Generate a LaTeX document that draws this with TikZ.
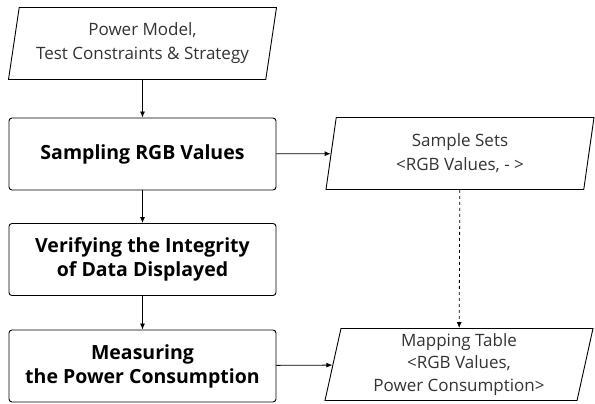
\documentclass[tikz,border=0pt]{standalone}
\usepackage{fontspec}
\setmainfont{Open Sans}
\usetikzlibrary{shapes.geometric,arrows.meta}

\begin{document}
\begin{tikzpicture}[x=1pt, y=-1pt, >={Latex[length=6pt,width=5pt]},
  every node/.style={draw, line width=0.9pt, align=center, text=black!80},
  stage/.style={rounded corners=3pt, minimum width=267pt, minimum height=72pt, font=\fontsize{19.5}{24}\selectfont\bfseries, text=black},
  data/.style={trapezium, trapezium left angle=76, trapezium right angle=104, trapezium stretches body, minimum width=268pt, minimum height=72pt, inner sep=1pt, font=\fontsize{17}{24}\selectfont}]

\useasboundingbox (0,0) rectangle (595,404);

% Input
\node[data] (input) at (142.5,43.5) {Power Model,\\Test Constraints \& Strategy};

% Stages
\node[stage] (sampling) at (142.5,154) {Sampling RGB Values};
\node[stage] (verify) at (142.5,259.5) {Verifying the Integrity\\of Data Displayed};
\node[stage] (measure) at (142.5,366) {Measuring\\the Power Consumption};

% Outputs
\node[data] (samples) at (460,153.5) {Sample Sets\\<RGB Values, - >};
\node[data, font=\fontsize{17}{22.5}\selectfont] (mapping) at (459,364.5) {Mapping Table\\<RGB Values,\\Power Consumption>};

% Flow
\draw[->, line width=0.8pt] (input) -- (sampling);
\draw[->, line width=0.8pt] (sampling) -- (verify);
\draw[->, line width=0.8pt] (verify) -- (measure);
\draw[->, line width=0.8pt] (sampling) -- (samples);
\draw[->, line width=0.8pt] (measure) -- (mapping);
\draw[->, line width=0.8pt, dashed] (samples) -- (mapping);

\end{tikzpicture}
\end{document}
